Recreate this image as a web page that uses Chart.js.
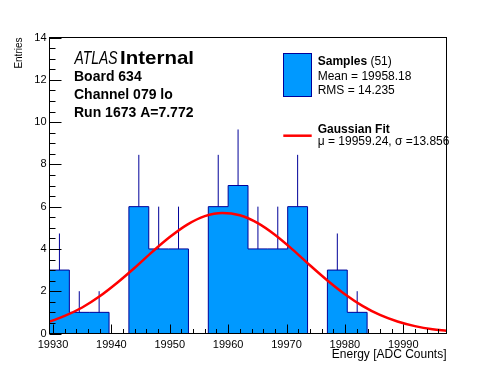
<!DOCTYPE html>
<html><head><meta charset="utf-8">
<script src="https://cdn.jsdelivr.net/npm/chart.js@4.4.1/dist/chart.umd.min.js"></script>
<style>html,body{margin:0;padding:0;background:#fff}canvas{display:block}</style>
</head><body>
<canvas id="c" width="496" height="372"></canvas>
<script>
// ---- data ----
const binLow = 19929.4;      // first bin lower edge (ADC counts)
const binWidth = 3.4;        // bin width (ADC counts)
const binCounts = [3, 1, 1, 0, 6, 4, 4, 0, 6, 7, 4, 4, 6, 0, 3, 1, 0, 0, 0, 0];
const binErrors = [1.73, 1, 1, 0, 2.45, 2, 2, 0, 2.45, 2.65, 2, 2, 2.45, 0, 1.73, 1, 0, 0, 0, 0];
const fitX = [19929.4, 19932, 19935, 19938, 19941, 19944, 19947, 19950, 19953, 19956, 19959, 19962,
              19965, 19968, 19971, 19974, 19977, 19980, 19983, 19986, 19989, 19992, 19995, 19997.4];
const fitY = [0.56, 0.83, 1.23, 1.76, 2.40, 3.11, 3.86, 4.56, 5.15, 5.55, 5.70, 5.59,
              5.23, 4.67, 3.98, 3.23, 2.51, 1.86, 1.31, 0.88, 0.57, 0.35, 0.20, 0.13];
const xTickLabels = [19930, 19940, 19950, 19960, 19970, 19980, 19990];
const yTickLabels = [0, 2, 4, 6, 8, 10, 12, 14];
const xMinorStep = 2;
const yMinorStep = 0.5;
const sampleCount = 51;
const sampleMean = '19958.18';
const sampleRms = '14.235';
const fitMu = '19959.24';
const fitSigma = '13.856';
const labelLines = ['Board 634', 'Channel 079 lo', 'Run 1673 A=7.772'];

const FONT = '"Liberation Sans", Arial, Helvetica, sans-serif';
const FILL = '#0099ff';
const EDGE = '#000099';
const RED = '#ff0000';

// histogram outline as stepped line
const nBins = binCounts.length;
const xMax = binLow + nBins * binWidth;
const histData = binCounts.map((c, i) => ({x: binLow + i * binWidth, y: c}));
histData.push({x: xMax, y: 0});

const errData = [];
binCounts.forEach((c, i) => {
  if (c > 0) {
    const xc = binLow + (i + 0.5) * binWidth;
    errData.push({x: xc, y: c}, {x: xc, y: c + binErrors[i]}, {x: xc, y: null});
  }
});
const fitData = fitX.map((x, i) => ({x, y: fitY[i]}));

const isMajor = (v, list) => list.some(t => Math.abs(t - v) < 1e-6);

function fitText(ctx, text, x, y, width) {
  const w = ctx.measureText(text).width;
  ctx.save();
  ctx.translate(x, y);
  ctx.scale(width / w, 1);
  ctx.fillText(text, 0, 0);
  ctx.restore();
}

const framePlugin = {
  id: 'frame',
  afterDraw(chart) {
    const {ctx, chartArea: a, scales: {x, y}} = chart;
    ctx.save();
    ctx.strokeStyle = '#000';
    ctx.lineWidth = 1;
    ctx.beginPath();
    x.ticks.forEach(t => {
      const px = Math.round(x.getPixelForValue(t.value)) + 0.5;
      const len = isMajor(t.value, xTickLabels) ? 9 : 4.5;
      ctx.moveTo(px, a.bottom); ctx.lineTo(px, a.bottom - len);
    });
    y.ticks.forEach(t => {
      const py = Math.round(y.getPixelForValue(t.value)) + 0.5;
      const len = isMajor(t.value, yTickLabels) ? 12 : 6;
      ctx.moveTo(a.left, py); ctx.lineTo(a.left + len, py);
    });
    ctx.stroke();
    ctx.strokeRect(a.left, a.top, a.right - a.left, a.bottom - a.top);

    // ATLAS label block
    ctx.fillStyle = '#000';
    ctx.textBaseline = 'alphabetic';
    ctx.textAlign = 'left';
    ctx.font = 'italic 18px ' + FONT;
    fitText(ctx, 'ATLAS', 74.5, 63.5, 43);
    ctx.font = 'bold 19px ' + FONT;
    fitText(ctx, 'Internal', 120, 63.5, 74);
    ctx.font = 'bold 14px ' + FONT;
    const ys = [80.7, 99.3, 117.3];
    labelLines.forEach((s, i) => ctx.fillText(s, 74, ys[i]));

    // legend
    ctx.fillStyle = FILL;
    ctx.fillRect(283.5, 53.5, 28, 43);
    ctx.strokeStyle = EDGE;
    ctx.strokeRect(283.5, 53.5, 28, 43);
    ctx.fillStyle = '#000';
    ctx.font = 'bold 12px ' + FONT;
    ctx.fillText('Samples', 317.7, 65);
    const w = ctx.measureText('Samples').width;
    ctx.font = '12px ' + FONT;
    ctx.fillText(' (' + sampleCount + ')', 317.7 + w, 65);
    ctx.fillText('Mean = ' + sampleMean, 317.7, 80);
    ctx.fillText('RMS = ' + sampleRms, 317.7, 94);
    ctx.strokeStyle = RED;
    ctx.lineWidth = 2.5;
    ctx.beginPath(); ctx.moveTo(283.3, 135.7); ctx.lineTo(311.7, 135.7); ctx.stroke();
    ctx.font = 'bold 12px ' + FONT;
    ctx.fillText('Gaussian Fit', 317.7, 132.7);
    ctx.font = '12px ' + FONT;
    ctx.fillText('\u03BC = ' + fitMu + ', \u03C3 =' + fitSigma, 317.7, 144.5);
    ctx.restore();
  }
};

Chart.defaults.font.family = FONT;
Chart.defaults.color = '#000';

new Chart(document.getElementById('c'), {
  type: 'line',
  data: {
    datasets: [
      {label: 'Gaussian Fit', data: fitData, borderColor: RED, borderWidth: 2.5, pointRadius: 0,
       cubicInterpolationMode: 'monotone', fill: false, order: 0},
      {label: 'errors', data: errData, borderColor: EDGE, borderWidth: 1, pointRadius: 0,
       spanGaps: false, fill: false, order: 1},
      {label: 'Samples', data: histData, borderColor: EDGE, borderWidth: 1, backgroundColor: FILL,
       pointRadius: 0, stepped: 'before', fill: 'origin', order: 2}
    ]
  },
  options: {
    responsive: false,
    devicePixelRatio: 1,
    animation: false,
    layout: {padding: {top: 37.5, right: 49.5, bottom: 0, left: 0}},
    plugins: {legend: {display: false}, tooltip: {enabled: false}},
    scales: {
      x: {
        type: 'linear', min: binLow, max: xMax,
        afterBuildTicks: s => {
          const t = [];
          for (let v = xTickLabels[0]; v <= xMax; v += xMinorStep) t.push({value: v});
          s.ticks = t;
        },
        ticks: {autoSkip: false, maxRotation: 0, font: {size: 11}, padding: 5, color: '#000',
                callback: v => isMajor(v, xTickLabels) ? String(v) : ''},
        grid: {display: false, drawTicks: false}, border: {display: false},
        title: {display: true, text: 'Energy [ADC Counts]', align: 'end', color: '#000',
                font: {size: 12}, padding: {top: 0, bottom: 9.8}},
        afterFit: s => { s.height = 38.5; }
      },
      y: {
        type: 'linear', min: 0, max: 14,
        ticks: {stepSize: yMinorStep, autoSkip: false, font: {size: 11}, padding: 3, color: '#000',
                callback: v => isMajor(v, yTickLabels) ? String(v) : ''},
        grid: {display: false, drawTicks: false}, border: {display: false},
        title: {display: true, text: 'Entries', align: 'end', color: '#000',
                font: {size: 10}, padding: {top: 13, bottom: 0}},
        afterFit: s => { s.width = 49.5; }
      }
    }
  },
  plugins: [framePlugin]
});
</script>
</body></html>
